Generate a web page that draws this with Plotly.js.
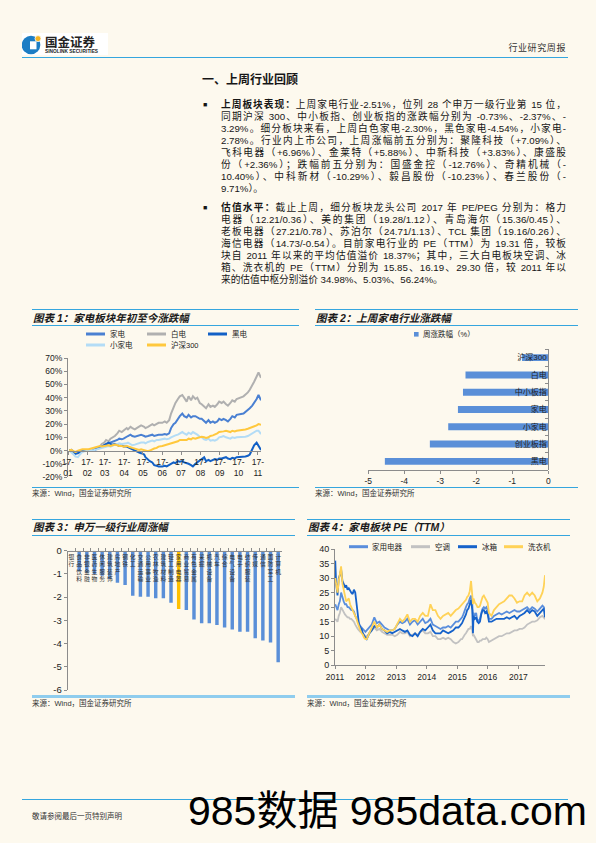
<!DOCTYPE html>
<html><head><meta charset="utf-8">
<script src="https://cdn.plot.ly/plotly-3.0.1.min.js"></script>
<style>
html,body{margin:0;padding:0;}
body{width:596px;height:843px;background:#FDF9EE;position:relative;overflow:hidden;font-family:"Liberation Sans","Noto Sans CJK SC",sans-serif;color:#161616;}
.hl{position:absolute;height:1.4px;background:#35A6DE;}
.hlb{position:absolute;height:2.6px;background:#8FCDEE;}
.ln{position:absolute;left:221px;width:345px;height:12px;line-height:12px;font-size:9.7px;white-space:nowrap;text-align:justify;text-align-last:justify;}
.ln.last{text-align-last:left;}
.bul{position:absolute;left:203px;font-size:7px;line-height:12px;height:12px;}
.ttl{position:absolute;font-size:10.5px;font-weight:bold;font-style:italic;line-height:14px;white-space:nowrap;color:#1a1a1a;}
.src{position:absolute;font-size:7.5px;line-height:10px;white-space:nowrap;color:#333;}
#chart{position:absolute;left:0;top:0;width:596px;height:843px;}
</style></head><body>

<svg style="position:absolute;left:22px;top:33px" width="88" height="23">
  <rect x="0" y="0" width="86" height="22" fill="#ffffff"/>
  <circle cx="9" cy="12" r="9.3" fill="#1C7DC4"/>
  <rect x="8" y="8.3" width="6.5" height="8" fill="#ffffff"/>
  <circle cx="16" cy="5.6" r="3" fill="#F4B320" stroke="#ffffff" stroke-width="0.8"/>
  <text x="23" y="13.5" font-size="12.5" font-weight="bold" font-family="Noto Sans CJK SC" fill="#222">国金证券</text>
  <text x="23" y="20" font-size="4.8" font-weight="bold" font-family="Liberation Sans" fill="#222">SINOLINK SECURITIES</text>
</svg>
<div style="position:absolute;right:30px;top:42px;font-size:9px;line-height:12px;color:#333;letter-spacing:0.6px;">行业研究周报</div>
<div class="hl" style="left:22px;top:56.5px;width:546px;"></div>

<div style="position:absolute;left:202px;top:72px;font-size:12px;font-weight:bold;line-height:16px;">一、上周行业回顾</div>

<div class="bul" style="top:99px">■</div>
<div class="ln" style="top:99px"><b>上周板块表现：</b>上周家电行业-2.51%，位列 28 个申万一级行业第 15 位，</div>
<div class="ln" style="top:111px">同期沪深 300、中小板指、创业板指的涨跌幅分别为 -0.73%、-2.37%、-</div>
<div class="ln" style="top:123px">3.29%。细分板块来看，上周白色家电-2.30%，黑色家电-4.54%，小家电-</div>
<div class="ln" style="top:135px">2.78%。行业内上市公司，上周涨幅前五分别为：聚隆科技（+7.09%）、</div>
<div class="ln" style="top:147px">飞科电器（+6.96%）、金莱特（+5.88%）、中新科技（+3.83%）、康盛股</div>
<div class="ln" style="top:159px">份（+2.36%）；跌幅前五分别为：国盛金控（-12.76%）、奇精机械（-</div>
<div class="ln" style="top:171px">10.40%）、中科新材（-10.29%）、毅昌股份（-10.23%）、春兰股份（-</div>
<div class="ln last" style="top:183px">9.71%）。</div>

<div class="bul" style="top:202px">■</div>
<div class="ln" style="top:202px"><b>估值水平：</b>截止上周，细分板块龙头公司 2017 年 PE/PEG 分别为：格力</div>
<div class="ln" style="top:214px">电器（12.21/0.36）、美的集团（19.28/1.12）、青岛海尔（15.36/0.45）、</div>
<div class="ln" style="top:226px">老板电器（27.21/0.78）、苏泊尔（24.71/1.13）、TCL 集团（19.16/0.26）、</div>
<div class="ln" style="top:238px">海信电器（14.73/-0.54）。目前家电行业的 PE（TTM）为 19.31 倍，较板</div>
<div class="ln" style="top:250px">块自 2011 年以来的平均估值溢价 18.37%；其中，三大白电板块空调、冰</div>
<div class="ln" style="top:262px">箱、洗衣机的 PE（TTM）分别为 15.85、16.19、29.30 倍，较 2011 年以</div>
<div class="ln last" style="top:274px">来的估值中枢分别溢价 34.98%、5.03%、56.24%。</div>

<!-- chart panels -->
<div class="hl" style="left:32px;top:308.6px;width:267px;"></div>
<div class="ttl" style="left:33px;top:310.5px;">图表 1：家电板块年初至今涨跌幅</div>
<div class="hl" style="left:32px;top:325px;width:267px;"></div>
<div class="hl" style="left:32px;top:487px;width:267px;"></div>
<div class="src" style="left:32px;top:489px;">来源：Wind，国金证券研究所</div>

<div class="hl" style="left:315px;top:308.6px;width:263px;"></div>
<div class="ttl" style="left:316px;top:310.5px;">图表 2：上周家电行业涨跌幅</div>
<div class="hl" style="left:315px;top:325px;width:263px;"></div>
<div class="hl" style="left:315px;top:487px;width:263px;"></div>
<div class="src" style="left:315px;top:489px;">来源：Wind，国金证券研究所</div>

<div class="hl" style="left:32px;top:518.6px;width:263px;"></div>
<div class="ttl" style="left:33px;top:520px;">图表 3：申万一级行业周涨幅</div>
<div class="hl" style="left:32px;top:535px;width:263px;"></div>
<div class="hlb" style="left:32px;top:695.4px;width:263px;"></div>
<div class="src" style="left:32px;top:699px;">来源：Wind，国金证券研究所</div>

<div class="hl" style="left:307px;top:518.6px;width:263px;"></div>
<div class="ttl" style="left:308px;top:520px;">图表 4：家电板块 PE（TTM）</div>
<div class="hl" style="left:307px;top:535px;width:263px;"></div>
<div class="hlb" style="left:307px;top:695.4px;width:263px;"></div>
<div class="src" style="left:307px;top:699px;">来源：Wind，国金证券研究所</div>

<div class="hl" style="left:22px;top:799px;width:546px;"></div>
<div style="position:absolute;left:32px;top:812px;font-size:7.5px;line-height:10px;color:#333;">敬请参阅最后一页特别声明</div>

<div id="chart"></div>

<div style="position:absolute;left:188px;top:790px;font-size:41px;line-height:42px;color:#000;white-space:nowrap;">985数据 985data.com</div>

<script>
// ---------- Chart 1: 家电板块年初至今涨跌幅 (%) ----------
const dates1 = ["2017-01-03","2017-01-06","2017-01-10","2017-01-13","2017-01-17","2017-01-20","2017-01-24",
"2017-02-03","2017-02-07","2017-02-10","2017-02-14","2017-02-17","2017-02-21","2017-02-24","2017-02-28",
"2017-03-03","2017-03-07","2017-03-10","2017-03-14","2017-03-17","2017-03-21","2017-03-24","2017-03-28","2017-03-31",
"2017-04-05","2017-04-07","2017-04-11","2017-04-14","2017-04-18","2017-04-21","2017-04-25","2017-04-28",
"2017-05-03","2017-05-05","2017-05-09","2017-05-12","2017-05-16","2017-05-19","2017-05-23","2017-05-26",
"2017-06-01","2017-06-05","2017-06-08","2017-06-12","2017-06-15","2017-06-19","2017-06-22","2017-06-26","2017-06-29",
"2017-07-03","2017-07-06","2017-07-10","2017-07-13","2017-07-17","2017-07-20","2017-07-24","2017-07-27","2017-07-31",
"2017-08-03","2017-08-07","2017-08-10","2017-08-14","2017-08-17","2017-08-21","2017-08-24","2017-08-28","2017-08-31",
"2017-09-04","2017-09-07","2017-09-11","2017-09-14","2017-09-18","2017-09-21","2017-09-25","2017-09-28",
"2017-10-09","2017-10-12","2017-10-16","2017-10-19","2017-10-23","2017-10-26","2017-10-30",
"2017-11-02","2017-11-06"];
const jiadian = [0,0.3,-1,-1.5,-2,-1,0,
 0,0.5,0,1,1.5,2,3,4,
 5,5.5,6,7,7.5,8,9,8.5,9,
 10,11,12,11,10.5,11,11.5,12,
 11,10.5,11,11.5,12,11,11.5,12,
 12,12.5,12,13,17,20,21,24,26,
 28,26,25,27,25,26,26,25,24,
 24,22,21,23,21,22,21,22,24,
 23,24,23,22,24,26,25,27,
 28,29,31,32,34,36,39,
 42,38];
const baidian = [0,0.5,-1,-1.5,-2,-1,0,
 0.5,1,0.5,1.5,2,3,5,6,
 8,7,9,10,11,13,15,14,15,
 17,16,18,17,16,17,18,19,
 18,17,18,19,20,19,20,21,
 21,22,21,23,28,33,36,39,41,
 42,40,37,41,38,41,39,40,36,
 35,33,32,35,33,34,33,35,37,
 36,37,35,34,36,38,37,39,
 41,42,44,46,49,52,56,
 59,55];
const heidian = [0,0.5,-1.5,-2.5,-2,-1,-0.5,
 0,0.5,0,1,1.5,2,3,4,
 5,6,5,4.5,5,4,3.5,4,3,
 3,2.5,2,1,0,-1,-1.5,-2,
 -3,-5,-7,-8,-9,-11,-11.5,-12,
 -12,-11.5,-12,-11,-10,-9,-9.5,-8,-8.5,
 -8,-9,-9.5,-10,-11,-12,-10,-9,-7,
 -6,-5,-8,-7,-8,-7,-6.5,-7,-6,
 -6,-5.5,-5,-6,-6.5,-5.5,-6,-5,
 -5,-4.5,-4,-3,1,4,6,
 4,0.5];
const xiaojiadian = [0,-1,-3,-4.5,-5,-3,-1,
 0,0.5,0,0.5,1,1.5,2,2.5,
 3,3.5,3,4,4.5,5,5.5,5,5,
 5.5,6,5,4,4.5,5,5.5,6,
 6,5.5,6.5,7,7.5,7,8,8,
 8.5,9,8.5,9,10,11,11.5,12,13,
 14,13,12,13.5,12.5,14,13,12,10.5,
 10,8.5,8,9,7.5,8,7.5,8.5,10,
 10.5,11,10,9.5,9,10,9.5,10,
 10,10.5,11,12,13,14,15,
 15,12.5];
const hs300 = [0,0.5,-0.5,-1,0,0.5,1,
 1,1.5,2,2.5,3,3.5,3,3.5,
 3.5,4,3.5,4,4.5,4,3.5,3.5,3,
 3.5,3,2.5,2,1.5,1,0.5,1,
 0.5,0,-0.5,0,1,1.5,2,3,
 3.5,4,4.5,5,5.5,6,6.5,7,8,
 8,8.5,8,9,8.5,9.5,9,9.5,10,
 10.5,10,9.5,10,11,11.5,12,13,14,
 14,14.5,15,14.5,14,15,14.5,15,
 15.5,16,16.5,17,17.5,18,19,
 20,19.5];
const names1 = ["家电","白电","黑电","小家电","沪深300"];
const monthTicks1 = ["2017-01-01","2017-02-01","2017-03-01","2017-04-01","2017-05-01","2017-06-01","2017-07-01","2017-08-01","2017-09-01","2017-10-01","2017-11-01"];
const monthLabels1 = ["17-<br>01","17-<br>02","17-<br>03","17-<br>04","17-<br>05","17-<br>06","17-<br>07","17-<br>08","17-<br>09","17-<br>10","17-<br>11"];
const yTicks1 = [-20,-10,0,10,20,30,40,50,60,70];
const yLabels1 = ["-20%","-10%","0%","10%","20%","30%","40%","50%","60%","70%"];

// ---------- Chart 2: 上周家电行业涨跌幅 ----------
const cats2 = ["沪深300","白电","中小板指","家电","小家电","创业板指","黑电"];
const vals2 = [-0.73,-2.30,-2.37,-2.51,-2.78,-3.29,-4.54];
const legend2 = "周涨跌幅（%）";
const xTicks2 = [-5,-4,-3,-2,-1,0];
const xLabels2 = ["-5","-4","-3","-2","-1","0"];

// ---------- Chart 3: 申万一级行业周涨幅 ----------
const cats3 = ["银行","食品饮料","非银金融","医药生物","休闲服务","建筑装饰","房地产","钢铁","化工","交通运输","公用事业","农林牧渔","建筑材料","轻工制造","家用电器","商业贸易","有色金属","采掘","机械设备","汽车","综合","电气设备","电子","纺织服装","传媒","通信","国防军工","计算机"];
const vals3 = [-0.06,-0.88,-0.95,-1.0,-1.08,-1.22,-1.38,-1.48,-1.94,-1.98,-1.98,-2.05,-2.05,-2.24,-2.51,-2.55,-2.96,-3.13,-3.13,-3.2,-3.31,-3.39,-3.49,-3.49,-3.77,-3.87,-3.95,-4.8];
const highlight3 = "家用电器";
const yTicks3 = [-6,-5,-4,-3,-2,-1,0];
const yLabels3 = ["-6","-5","-4","-3","-2","-1","0"];

// ---------- Chart 4: 家电板块 PE（TTM） ----------
const dates4 = ["2011-01-04","2011-01-15","2011-01-31","2011-02-15","2011-02-28","2011-03-15","2011-03-31","2011-04-15","2011-04-30","2011-05-15","2011-05-31","2011-06-15","2011-06-30","2011-07-15","2011-07-31","2011-08-15","2011-08-31","2011-09-15","2011-09-30","2011-10-15","2011-10-31","2011-11-15","2011-11-30","2011-12-15","2011-12-31",
"2012-01-15","2012-02-15","2012-03-15","2012-04-15","2012-05-15","2012-06-15","2012-07-15","2012-08-15","2012-09-15","2012-10-15","2012-11-15","2012-12-15",
"2013-01-15","2013-02-15","2013-03-15","2013-04-15","2013-05-15","2013-06-15","2013-07-15","2013-08-15","2013-09-15","2013-10-15","2013-11-15","2013-12-15",
"2014-01-15","2014-02-15","2014-03-15","2014-04-15","2014-05-15","2014-06-15","2014-07-15","2014-08-15","2014-09-15","2014-10-15","2014-11-15","2014-12-15",
"2015-01-15","2015-01-31","2015-02-15","2015-02-28","2015-03-15","2015-03-31","2015-04-15","2015-04-30","2015-05-15","2015-05-31","2015-06-15","2015-06-30","2015-07-08","2015-07-15","2015-07-31","2015-08-15","2015-08-31","2015-09-15","2015-09-30","2015-10-15","2015-10-31","2015-11-15","2015-11-30","2015-12-15","2015-12-31",
"2016-01-15","2016-02-15","2016-03-15","2016-04-15","2016-05-15","2016-06-15","2016-07-15","2016-08-15","2016-09-15","2016-10-15","2016-11-15","2016-12-15",
"2017-01-15","2017-02-15","2017-03-15","2017-04-15","2017-05-15","2017-06-15","2017-07-15","2017-08-15","2017-09-15","2017-10-15","2017-10-31","2017-11-15"];
const peJiayong = [21,20,19,21,22,25,23,22,21,21,20,20,19.5,19,19,18.5,17,16,15,14,13.5,13,12.5,12,11.5,
 12,13,14,16.5,14.5,15,14,13,12.5,12,12,12.5,
 14,15,14.5,15,16,14,15,15.5,14,15,16,14.5,
 15,16,14,13.5,13,12.5,13,13,13.5,13,14,15,
 15,15.5,16,16.5,17.5,18.5,20,21,21.5,23,24,21,17,18,17,18,15,15.5,16,18,19.5,20,19.5,20,19,
 16,16,17,17.5,18,17.5,18,18.5,18,18.5,19,18.5,
 18.5,19,19.5,20,19,20,19.5,18.5,19.5,20.5,20,19.3];
const peKongtiao = [16,15.5,15,17,18,20,19,18,17.5,17,16.5,16.5,16,16,15.5,15,14,13,12.5,12,11.5,11.5,11,10.5,10,
 10,11,12,13,12,12.5,11.5,11,10.5,10.5,10.5,10,
 10.5,11.5,11,11,11.5,10,10.5,11,10.5,11.5,12,11,
 11,11.5,10,10,9,9,9.5,9,9.5,9,8,7.5,
 8,8.5,9,9,10,10.5,11,12,12.5,12.5,13.5,12,10,10.5,9.5,9,8,8,8.5,8.5,9,9,9,9.5,9,
 8,8.5,9,9.5,10,10,10.5,11,11,11.5,12,12,
 12.5,12.5,13,14,14.5,15,15,15.5,16.5,17,16.5,15.8];
const peBingxiang = [36,28,24,30,31,33,29,28,27,27.5,26,26.5,25.5,25,24.5,26,25,21,16,14,13,12.5,11,10,9.5,
 9,11,12,13.5,13,14,12.5,12,11,11.5,11,11.5,
 12,12.5,12,11.5,12,10.5,10,11,10,11.5,12.5,12,
 13,14,12,11,11,11,12,11.5,11,11.5,12,13,
 13,13.5,14,14.5,15.5,16.5,17.5,19,19.5,21,22.5,19,11,17,16,16.5,15,14.5,15,17.5,19,19,18,18.5,17.5,
 15,15,15.5,16,16,16,16,16.5,16,16.5,17,16,
 17,17.5,18,19,18,19,18.5,17,18,19,19.5,16.5];
const peXiyiji = [30,27,25,29,31,34,28,26,24,22,22.5,23,21,20,19.5,18,17,16,14.5,13,12,11,10.5,9.5,9,
 9,11,13,15,13,14,12.5,12,11.5,12,12,12.5,
 14.5,16,15,16,17.5,15,16,16,15,17,18,17,
 17,21,19,19,17,16,17,17.5,18,17,18,19,
 19.5,20,20.5,21,21.5,22,22.5,23.5,24,25.5,29,24,21,23,21.5,21,20,20,20.5,22,23.5,24,23,22.5,21.5,
 18,17,19,20,21,21.5,22,23,24,24,23,21.5,
 22,22,24,25,24,25,24,22,23,25,27,31];
const names4 = ["家用电器","空调","冰箱","洗衣机"];
const yearTicks4 = ["2011-01-01","2012-01-01","2013-01-01","2014-01-01","2015-01-01","2016-01-01","2017-01-01"];
const yearLabels4 = ["2011","2012","2013","2014","2015","2016","2017"];

// ---------- layout helpers (page pixels -> paper fraction) ----------
const W = 596, H = 843;
const X = p => p / W, Y = p => 1 - p / H;
const FONT = "Liberation Sans, Noto Sans CJK SC, sans-serif";
const AX = {showgrid:false, zeroline:false, showline:true, linecolor:"#8c8c8c", linewidth:1,
  ticks:"outside", ticklen:3, tickcolor:"#8c8c8c", tickfont:{size:8.5, color:"#222", family:FONT}};

const colors1 = ["#4A80D2","#B0B0B0","#1260C6","#B3DCF6","#FFC83D"];
const series1 = [jiadian, baidian, heidian, xiaojiadian, hs300];
const colors4 = ["#5A8EDC","#C2C2C2","#1662CA","#FFD257"];
const series4 = [peJiayong, peKongtiao, peBingxiang, peXiyiji];

const traces = [];
series1.forEach((s, i) => traces.push({type:"scatter", mode:"lines", x:dates1, y:s, name:names1[i],
  line:{color:colors1[i], width:2}, xaxis:"x", yaxis:"y"}));
traces.push({type:"bar", orientation:"h", x:vals2, y:cats2, name:legend2, width:0.4,
  marker:{color:"#5A8FD8"}, xaxis:"x2", yaxis:"y2"});
traces.push({type:"bar", x:cats3, y:vals3, width:0.45,
  marker:{color:cats3.map(c => c === highlight3 ? "#FFC000" : "#5A8FD8")}, xaxis:"x3", yaxis:"y3"});
series4.forEach((s, i) => traces.push({type:"scatter", mode:"lines", x:dates4, y:s, name:names4[i],
  line:{color:colors4[i], width:1.8}, xaxis:"x4", yaxis:"y4"}));

// manual legends (swatches + text)
const shapes = [], annotations = [];
function legendItem(x0, x1, y, color, text, kind) {
  if (kind === "square") {
    shapes.push({type:"rect", xref:"paper", yref:"paper", x0:X(x0), x1:X(x1), y0:Y(y+2.3), y1:Y(y-2.3),
      fillcolor:color, line:{width:0}});
  } else {
    shapes.push({type:"line", xref:"paper", yref:"paper", x0:X(x0), x1:X(x1), y0:Y(y), y1:Y(y),
      line:{color:color, width:3}});
  }
  annotations.push({xref:"paper", yref:"paper", x:X(x1 + 2.5), y:Y(y), xanchor:"left", yanchor:"middle",
    text:text, showarrow:false, font:{size:7.5, color:"#222", family:FONT}});
}
legendItem(86, 105, 334, colors1[0], names1[0]);
legendItem(147, 166, 334, colors1[1], names1[1]);
legendItem(208, 227, 334, colors1[2], names1[2]);
legendItem(86, 105, 345, colors1[3], names1[3]);
legendItem(147, 166, 345, colors1[4], names1[4]);
legendItem(414, 418.6, 334.3, "#5A8FD8", legend2, "square");
legendItem(349, 368, 546.7, colors4[0], names4[0]);
legendItem(411, 430, 546.7, colors4[1], names4[1]);
legendItem(458, 477, 546.7, colors4[2], names4[2]);
legendItem(504, 523, 546.7, colors4[3], names4[3]);

const layout = {
  width:W, height:H, margin:{l:0,r:0,t:0,b:0,pad:0},
  paper_bgcolor:"rgba(0,0,0,0)", plot_bgcolor:"rgba(0,0,0,0)",
  showlegend:false, font:{family:FONT, size:9, color:"#222"},
  shapes:shapes, annotations:annotations,
  xaxis: Object.assign({}, AX, {domain:[X(68),X(261)], type:"date", range:["2017-01-01","2017-11-06"],
    anchor:"free", position:Y(450.7), tickmode:"array", tickvals:monthTicks1, ticktext:monthLabels1, ticklen:3}),
  yaxis: Object.assign({}, AX, {domain:[Y(477),Y(358)], range:[-20,70], anchor:"x",
    tickmode:"array", tickvals:yTicks1, ticktext:yLabels1}),
  xaxis2: Object.assign({}, AX, {domain:[X(368.3),X(548.3)], range:[-5,0], anchor:"y2",
    tickmode:"array", tickvals:xTicks2, ticktext:xLabels2}),
  yaxis2: Object.assign({}, AX, {domain:[Y(470),Y(349)], type:"category", categoryorder:"array",
    categoryarray:cats2, autorange:"reversed", side:"left", anchor:"free", position:X(548.3),
    tickson:"boundaries", tickfont:{size:8, color:"#222", family:FONT}}),
  xaxis3: Object.assign({}, AX, {domain:[X(67.7),X(282)], type:"category", side:"bottom", anchor:"free",
    position:Y(550.7), ticks:"inside", tickson:"boundaries", tickangle:0, tickmode:"array", tickvals:cats3,
    ticktext:cats3.map(c => c.split("").join("<br>")), tickfont:{size:5.8, color:"#333", family:FONT}}),
  yaxis3: Object.assign({}, AX, {domain:[Y(690),Y(550.7)], range:[-6,0], anchor:"x3",
    tickmode:"array", tickvals:yTicks3, ticktext:yLabels3, tickfont:{size:9.5, color:"#222", family:FONT}}),
  xaxis4: Object.assign({}, AX, {domain:[X(335),X(545)], type:"date", range:["2011-01-01","2017-11-15"],
    anchor:"y4", tickmode:"array", tickvals:yearTicks4, ticktext:yearLabels4}),
  yaxis4: Object.assign({}, AX, {domain:[Y(665.3),Y(549)], range:[0,40], anchor:"x4", dtick:5,
    tickfont:{size:9, color:"#222", family:FONT}})
};

Plotly.newPlot("chart", traces, layout, {staticPlot:true, displayModeBar:false});
</script>
</body></html>
